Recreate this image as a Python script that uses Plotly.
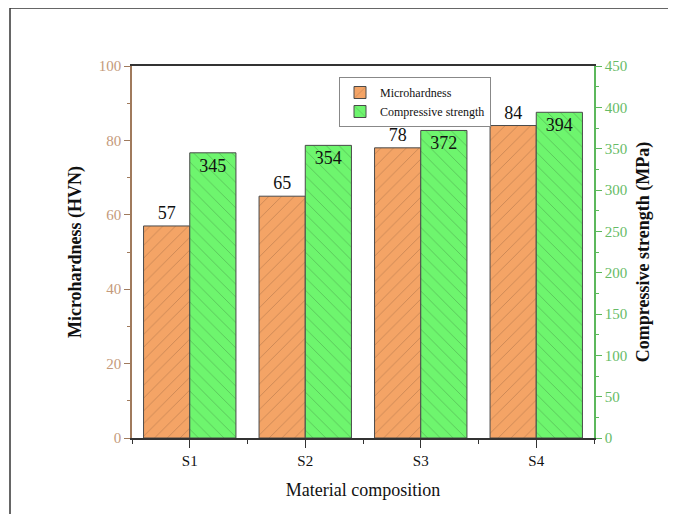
import plotly.graph_objects as go

categories = ["S1", "S2", "S3", "S4"]
x_pos = [0, 1, 2, 3]
microhardness = [57, 65, 78, 84]
compressive = [345, 354, 372, 394]

FONT = "Liberation Serif, Times New Roman, serif"
BROWN_T = "#c49a7a"
BROWN_L = "#a07a5c"
GREEN_T = "#66bb66"
GREEN_L = "#5cb85c"

# page has an 8px body margin on every side; compensate so the plot lands where the reference has it
OFF = 8
W, H = 676 - 2 * OFF, 522 - 2 * OFF
L, T = 132 - OFF, 66 - OFF
R = W - (594 - OFF)
B = H - (438 - OFF)
PW = W - L - R
PH = H - T - B
FX = (10 - 132) / PW
FY = (438 - 8) / PH

fig = go.Figure()
fig.add_trace(go.Bar(
    x=x_pos, y=microhardness, name="Microhardness",
    width=0.4, offset=-0.4,
    marker=dict(color="#F4A466", line=dict(color="#4a4a4a", width=1),
                pattern=dict(shape="/", fgcolor="#8a5a3a", size=9, solidity=0.08)),
    text=[str(v) for v in microhardness], textposition="outside",
    textfont=dict(family=FONT, size=18, color="#111111"),
    cliponaxis=False, yaxis="y"))
fig.add_trace(go.Bar(
    x=x_pos, y=compressive, name="Compressive strength",
    width=0.4, offset=0,
    marker=dict(color="#6EF56E", line=dict(color="#4a4a4a", width=1),
                pattern=dict(shape="\\", fgcolor="#3a7a3a", size=9, solidity=0.08)),
    text=[str(v) for v in compressive], textposition="inside",
    insidetextanchor="end",
    insidetextfont=dict(family=FONT, size=18, color="#111111"),
    yaxis="y2"))

fig.update_layout(
    width=W, height=H,
    margin=dict(l=L, r=R, t=T, b=B, autoexpand=False),
    paper_bgcolor="white", plot_bgcolor="white",
    font=dict(family=FONT, color="#111111"),
    showlegend=True,
    legend=dict(x=(339 - 132) / 462, y=(438 - 77) / 372, xanchor="left", yanchor="top",
                bordercolor="#888888", borderwidth=1, bgcolor="white",
                font=dict(family=FONT, size=12, color="#111111"),
                tracegroupgap=0, itemwidth=30),
    xaxis=dict(range=[-0.5, 3.5], tickmode="array", tickvals=x_pos, ticktext=categories,
               ticks="outside", ticklen=8, tickcolor="#333333", tickwidth=1,
               showline=True, linecolor="#333333", linewidth=1.5, mirror=True,
               showgrid=False, zeroline=False,
               tickfont=dict(family=FONT, size=15, color="#111111"),
               title=dict(text="Material composition", font=dict(family=FONT, size=18, color="#111111"), standoff=16),
               minor=dict(tickmode="array", tickvals=[-0.5, 0.5, 1.5, 2.5, 3.5], ticks="outside",
                          ticklen=4, tickcolor="#333333")),
    yaxis=dict(range=[0, 100], dtick=20, ticks="outside", ticklen=6, tickcolor=BROWN_L,
               showline=True, linecolor=BROWN_L, linewidth=1.5,
               showgrid=False, zeroline=False,
               tickfont=dict(family=FONT, size=15, color=BROWN_T),
               title=dict(text="<b>Microhardness (HVN)</b>", font=dict(family=FONT, size=18, color="#111111"), standoff=12),
               minor=dict(dtick=10, ticks="outside", ticklen=3, tickcolor=BROWN_L)),
    yaxis2=dict(range=[0, 450], dtick=50, overlaying="y", side="right",
                ticks="outside", ticklen=6, tickcolor=GREEN_L,
                showline=True, linecolor=GREEN_L, linewidth=1.5,
                showgrid=False, zeroline=False,
                tickfont=dict(family=FONT, size=15, color=GREEN_T),
                title=dict(text="<b>Compressive strength (MPa)</b>", font=dict(family=FONT, size=18, color="#111111"), standoff=10),
                minor=dict(dtick=25, ticks="outside", ticklen=3, tickcolor=GREEN_L)),
    shapes=[
        dict(type="line", xref="paper", yref="paper", x0=FX, x1=1.4, y0=FY, y1=FY,
             line=dict(color="#333333", width=1.5), layer="below"),
        dict(type="line", xref="paper", yref="paper", x0=FX, x1=FX, y0=FY, y1=-0.4,
             line=dict(color="#333333", width=1.5), layer="below"),
    ],
)

fig.write_html("out.html")
